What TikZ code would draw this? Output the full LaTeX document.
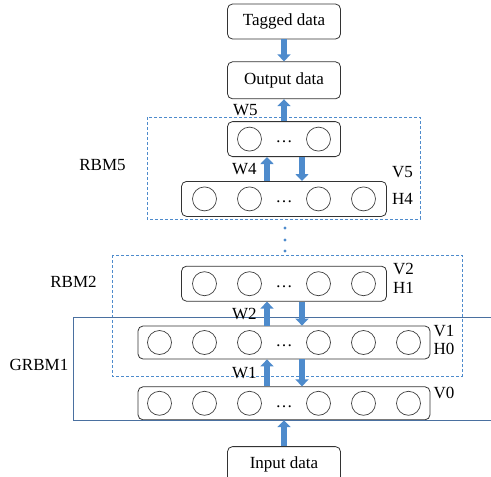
\documentclass[tikz,border=0pt]{standalone}
\usepackage{fontspec}
\setmainfont{Liberation Serif}
\usepackage{xcolor}
\usepackage{tikz}
\usetikzlibrary{positioning, arrows.meta}
\definecolor{arrowblue}{RGB}{78,139,204}
\definecolor{lineblue}{RGB}{74,112,160}

\begin{document}
\begin{tikzpicture}[
        x=1pt, y=-1pt,
        font=\fontsize{17}{20}\selectfont,
        node distance=22pt,
        datanode/.style={rectangle, rounded corners=5pt, minimum width=113pt, minimum height=35pt, text centered, draw=black!80, line width=0.8pt},
        layer/.style={rectangle, rounded corners=5pt, minimum width=205pt, minimum height=35pt, draw=black!80, line width=0.8pt},
        unit/.style={circle, minimum size=24pt, inner sep=0pt, draw=black!75, line width=0.7pt},
        arrow/.style={draw=arrowblue, line width=6pt, -{Triangle[width=13pt, length=7pt]}},
        group/.style={draw=arrowblue, line width=0.7pt, dash pattern=on 3pt off 2pt},
        lbl/.style={inner sep=1pt}
    ]
        \useasboundingbox (0,0) rectangle (491,477);

        % ===== blocks =====
        \node (tagData) [datanode] at (284,21.5) {Tagged data};
        \node (outData) [datanode, minimum height=37pt, below=of tagData] {Output data};
        \node (hidFive) [datanode, below=of outData] {};
        \node (visFive) [layer, below=24pt of hidFive] {};
        \node (visTwo) [layer, below=49pt of visFive] {};
        \node (visOne) [layer, minimum width=292pt, minimum height=33pt, below=24pt of visTwo] {};
        \node (visZero) [layer, minimum width=292pt, minimum height=33pt, below=27pt of visOne] {};
        \node (inData) [datanode, below=26pt of visZero] {Input data};

        % ===== units =====
        \foreach \dx [count=\i] in {-34.5,34.5}
            \node (hidFive-\i) [unit] at ([xshift=\dx pt]hidFive.center) {};
        \foreach \lay in {visFive, visTwo}
            \foreach \dx [count=\i] in {-79.5,-34.5,34.5,79.5}
                \node (\lay-\i) [unit] at ([xshift=\dx pt]\lay.center) {};
        \foreach \lay in {visOne, visZero}
            \foreach \dx [count=\i] in {-124.5,-79.5,-34.5,34.5,79.5,124.5}
                \node (\lay-\i) [unit] at ([xshift=\dx pt]\lay.center) {};
        \foreach \lay in {hidFive, visFive, visTwo, visOne, visZero}
            \node (\lay-dots) [inner sep=0pt] at ([yshift=-3pt]\lay.center) {\dots};

        % ===== groups =====
        \draw [group] (147,117) rectangle (420,219);
        \draw [group] (112,255) rectangle (462,376);
        \draw [lineblue, line width=0.8pt] (491,317) -| (73,420) -- (491,420);
        \foreach \y in {228,240,251}
            \fill [arrowblue] (285,\y) circle (1.7pt);

        \node (rbmFive) at (102.5,165) {RBM5};
        \node (rbmTwo) at (73.5,282) {RBM2};
        \node (grbmOne) at (39,365) {GRBM1};

        % ===== layer labels =====
        \node (vFive) [lbl, anchor=west] at ([xshift=4pt, yshift=9pt]visFive.north east) {V5};
        \node (hFour) [lbl, anchor=west] at ([xshift=4pt]visFive.east) {H4};
        \node (vTwo) [lbl, anchor=west] at ([xshift=5pt, yshift=-3pt]visTwo.north east) {V2};
        \node (hOne) [lbl, anchor=west] at ([xshift=5pt, yshift=-4.5pt]visTwo.east) {H1};
        \node (vOne) [lbl, anchor=west] at ([xshift=2pt, yshift=-5pt]visOne.north east) {V1};
        \node (hZero) [lbl, anchor=west] at ([xshift=2pt, yshift=-6.5pt]visOne.east) {H0};
        \node (vZero) [lbl, anchor=west] at ([xshift=2pt, yshift=-7pt]visZero.north east) {V0};

        % ===== arrows =====
        \draw [arrow] (tagData) -- (outData);
        \draw [arrow] (hidFive) -- node (wFive) [left=20pt] {W5} (outData);
        \draw [arrow] ([xshift=-17pt]visFive.north) -- node (wFour) [left=4pt] {W4} ([xshift=-17pt]hidFive.south);
        \draw [arrow] ([xshift=18pt]hidFive.south) -- ([xshift=18pt]visFive.north);
        \draw [arrow] ([xshift=-17pt]visOne.north) -- node (wTwo) [left=4pt] {W2} ([xshift=-17pt]visTwo.south);
        \draw [arrow] ([xshift=18pt]visTwo.south) -- ([xshift=18pt]visOne.north);
        \draw [arrow] ([xshift=-17pt]visZero.north) -- node (wOne) [left=4pt] {W1} ([xshift=-17pt]visOne.south);
        \draw [arrow] ([xshift=18pt]visOne.south) -- ([xshift=18pt]visZero.north);
        \draw [arrow] (inData) -- (visZero);

    \end{tikzpicture}
\end{document}
